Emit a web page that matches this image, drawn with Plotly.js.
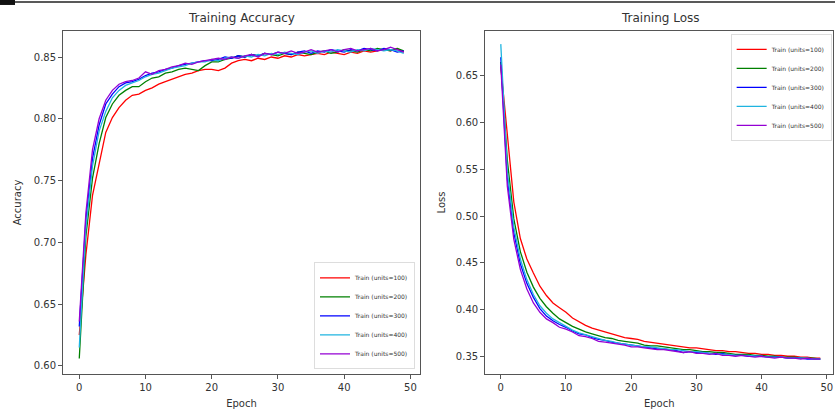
<!DOCTYPE html>
<html><head><meta charset="utf-8">
<script src="https://cdn.plot.ly/plotly-3.0.1.min.js"></script>
<style>html,body{margin:0;padding:0;background:#fff}#plot{width:835px;height:414px}</style>
</head><body><div id="plot"></div>
<script>
const epochs = Array.from({length: 50}, (_, i) => i);
const seriesNames = ['Train (units=100)','Train (units=200)','Train (units=300)','Train (units=400)','Train (units=500)'];
const seriesColors = ['#ff0000','#008000','#0000ff','#1fb4e0','#9400d3'];

const acc100 = [0.625,0.690,0.738,0.765,0.789,0.801,0.809,0.815,0.819,0.820,0.823,0.825,0.828,0.830,0.832,0.834,0.836,0.837,0.839,0.840,0.840,0.839,0.841,0.845,0.847,0.848,0.847,0.849,0.848,0.850,0.849,0.851,0.850,0.852,0.851,0.852,0.853,0.852,0.854,0.853,0.852,0.854,0.853,0.855,0.854,0.855,0.856,0.855,0.857,0.854];
const acc200 = [0.606,0.705,0.752,0.780,0.801,0.812,0.819,0.823,0.826,0.826,0.830,0.833,0.834,0.837,0.838,0.840,0.841,0.840,0.839,0.843,0.846,0.846,0.848,0.849,0.851,0.850,0.852,0.851,0.853,0.852,0.851,0.853,0.852,0.854,0.853,0.852,0.854,0.855,0.853,0.854,0.856,0.855,0.854,0.856,0.855,0.857,0.856,0.855,0.857,0.855];
const acc300 = [0.632,0.718,0.768,0.795,0.812,0.820,0.826,0.829,0.830,0.832,0.835,0.837,0.838,0.840,0.841,0.843,0.844,0.845,0.846,0.847,0.847,0.848,0.850,0.849,0.851,0.850,0.852,0.851,0.853,0.852,0.854,0.853,0.852,0.854,0.855,0.853,0.855,0.854,0.856,0.855,0.854,0.856,0.855,0.857,0.856,0.855,0.857,0.856,0.854,0.855];
const acc400 = [0.615,0.712,0.762,0.790,0.806,0.817,0.823,0.827,0.829,0.831,0.834,0.836,0.837,0.839,0.841,0.842,0.843,0.845,0.846,0.846,0.848,0.847,0.849,0.850,0.849,0.851,0.850,0.852,0.851,0.853,0.852,0.854,0.853,0.852,0.854,0.855,0.853,0.855,0.854,0.856,0.855,0.854,0.856,0.855,0.857,0.856,0.855,0.856,0.855,0.853];
const acc500 = [0.636,0.724,0.775,0.800,0.815,0.823,0.828,0.830,0.831,0.833,0.838,0.836,0.839,0.840,0.842,0.843,0.845,0.844,0.846,0.847,0.848,0.849,0.848,0.850,0.849,0.851,0.852,0.850,0.853,0.852,0.854,0.853,0.855,0.853,0.854,0.856,0.854,0.855,0.856,0.854,0.856,0.857,0.855,0.856,0.857,0.855,0.856,0.858,0.856,0.854];

const loss100 = [0.660,0.585,0.515,0.476,0.454,0.439,0.425,0.415,0.407,0.402,0.397,0.391,0.387,0.383,0.380,0.378,0.376,0.374,0.372,0.370,0.369,0.368,0.366,0.365,0.364,0.363,0.362,0.361,0.360,0.359,0.359,0.358,0.357,0.356,0.356,0.355,0.355,0.354,0.353,0.353,0.352,0.352,0.351,0.351,0.350,0.350,0.349,0.349,0.348,0.348];
const loss200 = [0.665,0.560,0.497,0.462,0.440,0.424,0.412,0.403,0.396,0.390,0.386,0.382,0.379,0.376,0.374,0.372,0.370,0.369,0.367,0.366,0.365,0.364,0.362,0.361,0.361,0.360,0.359,0.358,0.357,0.357,0.356,0.355,0.355,0.354,0.354,0.353,0.352,0.352,0.352,0.351,0.351,0.350,0.350,0.349,0.349,0.349,0.348,0.348,0.348,0.347];
const loss300 = [0.670,0.540,0.482,0.449,0.428,0.413,0.401,0.393,0.388,0.384,0.381,0.377,0.374,0.373,0.370,0.368,0.367,0.365,0.364,0.363,0.362,0.361,0.360,0.359,0.358,0.358,0.357,0.356,0.354,0.355,0.354,0.354,0.353,0.352,0.353,0.351,0.351,0.351,0.350,0.350,0.350,0.349,0.349,0.349,0.348,0.348,0.348,0.347,0.347,0.347];
const loss400 = [0.684,0.548,0.488,0.454,0.432,0.416,0.404,0.396,0.390,0.386,0.382,0.378,0.375,0.373,0.371,0.369,0.367,0.366,0.364,0.363,0.362,0.361,0.360,0.360,0.359,0.358,0.357,0.357,0.356,0.355,0.355,0.354,0.353,0.353,0.352,0.352,0.351,0.351,0.351,0.350,0.350,0.349,0.349,0.349,0.348,0.348,0.348,0.348,0.347,0.347];
const loss500 = [0.662,0.532,0.475,0.443,0.422,0.407,0.397,0.390,0.386,0.381,0.379,0.376,0.372,0.371,0.369,0.366,0.365,0.364,0.363,0.362,0.360,0.360,0.359,0.358,0.357,0.357,0.356,0.355,0.354,0.355,0.353,0.353,0.352,0.353,0.351,0.351,0.350,0.351,0.350,0.349,0.350,0.349,0.348,0.349,0.348,0.348,0.347,0.348,0.347,0.347];

const accSeries = [acc100, acc200, acc300, acc400, acc500];
const lossSeries = [loss100, loss200, loss300, loss400, loss500];

const traces = [];
accSeries.forEach((ys, i) => traces.push({
  x: epochs, y: ys, type: 'scatter', mode: 'lines', name: seriesNames[i],
  line: {color: seriesColors[i], width: 1.3}, xaxis: 'x', yaxis: 'y', legend: 'legend'
}));
lossSeries.forEach((ys, i) => traces.push({
  x: epochs, y: ys, type: 'scatter', mode: 'lines', name: seriesNames[i],
  line: {color: seriesColors[i], width: 1.3}, xaxis: 'x2', yaxis: 'y2', legend: 'legend2'
}));

const font = {family: 'DejaVu Sans, sans-serif', size: 10, color: '#333'};
const axisBase = {
  showline: true, mirror: true, linecolor: '#555', linewidth: 1,
  ticks: 'outside', ticklen: 4, tickwidth: 1, tickcolor: '#555',
  showgrid: false, zeroline: false, tickfont: {size: 10, color: '#333'}
};
const legendBase = {
  font: {size: 6, color: '#333'}, bgcolor: 'rgba(255,255,255,0.8)',
  bordercolor: '#ddd', borderwidth: 1, itemwidth: 30, tracegroupgap: 0
};

const layout = {
  width: 835, height: 414,
  margin: {l: 0, r: 0, t: 0, b: 0},
  paper_bgcolor: '#fff', plot_bgcolor: '#fff',
  font: font,
  xaxis: Object.assign({}, axisBase, {domain: [0.0755, 0.503], range: [-2.45, 51.45], tickvals: [0,10,20,30,40,50],
    title: {text: 'Epoch', font: {size: 10}, standoff: 7}, anchor: 'y'}),
  yaxis: Object.assign({}, axisBase, {domain: [0.0966, 0.925], range: [0.5935, 0.871], tickvals: [0.60,0.65,0.70,0.75,0.80,0.85], tickformat: '.2f',
    title: {text: 'Accuracy', font: {size: 10}, standoff: 10}, anchor: 'x'}),
  xaxis2: Object.assign({}, axisBase, {domain: [0.581, 0.998], range: [-2.4, 51.0], tickvals: [0,10,20,30,40,50],
    title: {text: 'Epoch', font: {size: 10}, standoff: 7}, anchor: 'y2'}),
  yaxis2: Object.assign({}, axisBase, {domain: [0.0966, 0.925], range: [0.331, 0.698], tickvals: [0.35,0.40,0.45,0.50,0.55,0.60,0.65], tickformat: '.2f',
    title: {text: 'Loss', font: {size: 10}, standoff: 8}, anchor: 'x2'}),
  legend: Object.assign({}, legendBase, {x: 0.497, y: 0.108, xanchor: 'right', yanchor: 'bottom'}),
  legend2: Object.assign({}, legendBase, {x: 0.996, y: 0.918, xanchor: 'right', yanchor: 'top'}),
  annotations: [
    {text: 'Training Accuracy', xref: 'paper', yref: 'paper', x: 0.289, y: 0.935, xanchor: 'center', yanchor: 'bottom', showarrow: false, font: {size: 12, color: '#333'}},
    {text: 'Training Loss', xref: 'paper', yref: 'paper', x: 0.79, y: 0.935, xanchor: 'center', yanchor: 'bottom', showarrow: false, font: {size: 12, color: '#333'}}
  ],
  shapes: [
    {type: 'line', xref: 'paper', yref: 'paper', x0: 0, x1: 1, y0: 0.995, y1: 0.995, line: {color: '#222', width: 1.5}},
    {type: 'rect', xref: 'paper', yref: 'paper', x0: 0, x1: 0.018, y0: 0.988, y1: 1, fillcolor: '#111', line: {width: 0}}
  ]
};

Plotly.newPlot('plot', traces, layout, {displayModeBar: false, staticPlot: true});
</script></body></html>
